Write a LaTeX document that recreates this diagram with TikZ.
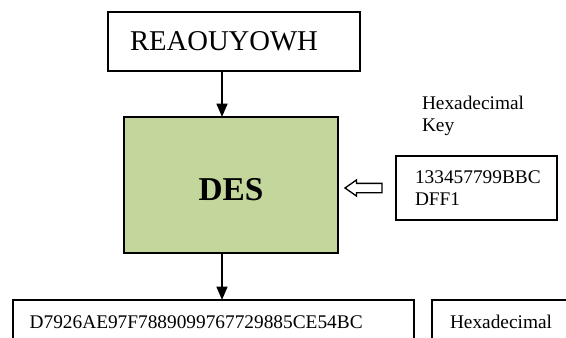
\documentclass[tikz,border=0pt]{standalone}
\usepackage{fontspec}
\setmainfont{Liberation Serif}
\usetikzlibrary{positioning,shapes.arrows,arrows.meta}
\definecolor{desgreen}{RGB}{195,214,155}

\begin{document}
\begin{tikzpicture}[
		x=0.75pt, y=-0.75pt,
		every node/.style = {
			outer sep=0pt,
			inner sep=0pt,
			font=\fontsize{14.5}{17}\selectfont
			},
		box/.style = {
			draw, rectangle,
			line width=1.5pt,
			align=left
			},
		flow/.style = {
			line width=1.8pt,
			-{Triangle[width=8pt,length=10pt]}
			}
		]
		\clip (0,0) rectangle (566,338);
		
		\node [box, text width=156pt, inner xsep=16.5pt, minimum height=44.25pt,
			font=\fontsize{21.5}{25}\selectfont] (plain) at (234,41.5) {REAOUYOWH};
		\node [box, fill=desgreen, line width=2.2pt, align=center,
			minimum width=160.5pt, minimum height=102pt,
			text height=22.5pt, text depth=0pt,
			font=\fontsize{25}{30}\selectfont\bfseries] (des) at (231,185) {DES};
		\node [box, text width=92.25pt, inner xsep=14.25pt, minimum height=48pt] (key) at (476.5,188)
			{133457799BBC\\DFF1};
		\node [anchor=west, align=left] (keylabel) at (422,116) {Hexadecimal\\Key};
		
		\node [box, anchor=north west, text width=276pt, inner xsep=12.5pt,
			minimum height=33pt] (cipher) at (13,300) {D7926AE97F7889099767729885CE54BC};
		\node [box, anchor=north west, text width=100pt, inner xsep=13.5pt,
			minimum height=33pt] (hexout) at (432,300) {Hexadecimal};
		
		\node [draw, single arrow, shape border rotate=180, line width=1pt,
			inner ysep=3pt, minimum width=11pt, minimum height=27.75pt,
			single arrow head extend=2.5pt, single arrow head indent=0pt,
			single arrow tip angle=70,
			left=10.5pt of key.west, anchor=east] (keyin) {};
		
		\draw[flow] ([xshift=-9pt]plain.south) -- ([xshift=-9pt]plain.south |- des.north);
		\draw[flow] ([xshift=-6.75pt]des.south) -- ([xshift=-6.75pt]des.south |- cipher.north);
		
	\end{tikzpicture}
\end{document}
